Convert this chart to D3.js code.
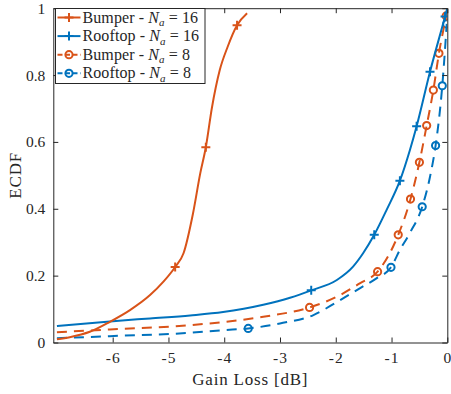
<!DOCTYPE html>
<html>
<head>
<meta charset="utf-8">
<script src="https://cdn.jsdelivr.net/npm/d3@7"></script>
<style>
  body { margin: 0; background: #fff; }
  svg text { font-family: "Liberation Serif", "DejaVu Serif", serif; fill: #262626; }
</style>
</head>
<body>
<div id="chart"></div>
<script>
// ---- data ----
const seriesNames = ["Bumper", "Rooftop", "Bumper", "Rooftop"];
const seriesNa = [16, 16, 8, 8];

// Bumper - Na = 16
const bumper16X = [-7.0, -6.77, -6.41, -6.05, -5.69, -5.33, -5.09, -4.88, -4.73, -4.56, -4.43, -4.33, -4.22, -4.08, -3.94, -3.77, -3.59];
const bumper16Y = [0.010, 0.016, 0.032, 0.062, 0.097, 0.142, 0.182, 0.226, 0.267, 0.386, 0.506, 0.584, 0.703, 0.815, 0.884, 0.949, 0.985];
const bumper16MarkX = [-4.88, -4.33, -3.77];
const bumper16MarkY = [0.226, 0.584, 0.949];

// Rooftop - Na = 16
const rooftop16X = [-7.0, -6.05, -5.33, -4.61, -4.02, -3.65, -3.30, -2.82, -2.44, -1.98, -1.69, -1.51, -1.31, -1.09, -0.85, -0.67, -0.55, -0.31, -0.04, 0];
const rooftop16Y = [0.049, 0.063, 0.072, 0.081, 0.091, 0.101, 0.113, 0.134, 0.156, 0.187, 0.227, 0.267, 0.322, 0.396, 0.484, 0.576, 0.647, 0.810, 0.975, 1.0];
const rooftop16MarkX = [-2.44, -1.31, -0.85, -0.55, -0.31, -0.04];
const rooftop16MarkY = [0.156, 0.322, 0.484, 0.647, 0.810, 0.975];

// Bumper - Na = 8
const bumper8X = [-7.0, -6.05, -4.61, -3.30, -2.47, -1.98, -1.57, -1.25, -0.88, -0.66, -0.50, -0.37, -0.25, -0.15, -0.02, -0.005];
const bumper8Y = [0.031, 0.039, 0.052, 0.077, 0.105, 0.137, 0.177, 0.212, 0.322, 0.429, 0.539, 0.649, 0.755, 0.865, 0.977, 0.99];
const bumper8MarkX = [-2.47, -1.25, -0.88, -0.66, -0.50, -0.37, -0.25, -0.15, -0.02];
const bumper8MarkY = [0.105, 0.212, 0.322, 0.429, 0.539, 0.649, 0.755, 0.865, 0.977];

// Rooftop - Na = 8
const rooftop8X = [-7.0, -6.05, -4.61, -4.02, -3.57, -3.00, -2.40, -1.98, -1.57, -1.27, -1.01, -0.85, -0.67, -0.45, -0.31, -0.21, -0.09, -0.01];
const rooftop8Y = [0.013, 0.019, 0.029, 0.037, 0.042, 0.057, 0.082, 0.121, 0.162, 0.192, 0.225, 0.277, 0.328, 0.406, 0.496, 0.589, 0.768, 0.953];
const rooftop8MarkX = [-3.57, -1.01, -0.45, -0.21, -0.09, -0.01];
const rooftop8MarkY = [0.042, 0.225, 0.406, 0.589, 0.768, 0.953];

const xTicks = [-6, -5, -4, -3, -2, -1, 0];
const yTicks = [0, 0.2, 0.4, 0.6, 0.8, 1];
const yTickLabels = ["0", "0.2", "0.4", "0.6", "0.8", "1"];

// ---- layout ----
const width = 451, height = 394;
const margin = { left: 53.3, right: 3.7, top: 8.2, bottom: 51.5 };
const orange = "#D95319", blue = "#0072BD";

const series = [
  { xs: bumper16X, ys: bumper16Y, mx: bumper16MarkX, my: bumper16MarkY, color: orange, dash: null, marker: "plus" },
  { xs: rooftop16X, ys: rooftop16Y, mx: rooftop16MarkX, my: rooftop16MarkY, color: blue, dash: null, marker: "plus" },
  { xs: bumper8X, ys: bumper8Y, mx: bumper8MarkX, my: bumper8MarkY, color: orange, dash: "10,7", marker: "circle" },
  { xs: rooftop8X, ys: rooftop8Y, mx: rooftop8MarkX, my: rooftop8MarkY, color: blue, dash: "10,7", marker: "circle" }
];

const svg = d3.select("#chart").append("svg")
  .attr("width", width)
  .attr("height", height);

const x = d3.scaleLinear().domain([-7.065, 0]).range([margin.left, width - margin.right]);
const y = d3.scaleLinear().domain([0, 1]).range([height - margin.bottom, margin.top]);

svg.append("clipPath").attr("id", "clip")
  .append("rect")
  .attr("x", margin.left).attr("y", margin.top - 2)
  .attr("width", width - margin.left - margin.right)
  .attr("height", height - margin.top - margin.bottom + 2);

// curves
const line = d3.line()
  .x(d => x(d[0]))
  .y(d => y(d[1]))
  .curve(d3.curveMonotoneX);

function drawMarker(g, kind, cx, cy, color) {
  if (kind === "plus") {
    g.append("path")
      .attr("d", `M${cx - 4.5},${cy}H${cx + 4.5}M${cx},${cy - 4.5}V${cy + 4.5}`)
      .attr("stroke", color).attr("stroke-width", 2).attr("fill", "none");
  } else {
    g.append("circle")
      .attr("cx", cx).attr("cy", cy).attr("r", 3.6)
      .attr("stroke", color).attr("stroke-width", 2).attr("fill", "none");
  }
}

const plot = svg.append("g").attr("clip-path", "url(#clip)");
// draw back to front: Na=8 first, then 16
[3, 2, 1, 0].forEach(i => {
  const s = series[i];
  const pts = s.xs.map((v, k) => [v, s.ys[k]]);
  plot.append("path")
    .datum(pts)
    .attr("d", line)
    .attr("fill", "none")
    .attr("stroke", s.color)
    .attr("stroke-width", 2)
    .attr("stroke-dasharray", s.dash);
  s.mx.forEach((v, k) => drawMarker(plot, s.marker, x(v), y(s.my[k]), s.color));
});

// axes (ticks pointing inwards, box on)
const axisColor = "#262626";
const gx = svg.append("g")
  .attr("transform", `translate(0,${height - margin.bottom})`)
  .call(d3.axisBottom(x).tickValues(xTicks).tickSizeInner(-5).tickSizeOuter(0).tickPadding(9).tickFormat(d => String(d)));
const gxt = svg.append("g")
  .attr("transform", `translate(0,${margin.top})`)
  .call(d3.axisTop(x).tickValues(xTicks).tickSizeInner(-5).tickSizeOuter(0).tickFormat(""));
const gy = svg.append("g")
  .attr("transform", `translate(${margin.left},0)`)
  .call(d3.axisLeft(y).tickValues(yTicks).tickSizeInner(-5).tickSizeOuter(0).tickPadding(8).tickFormat((d, i) => yTickLabels[i]));
const gyr = svg.append("g")
  .attr("transform", `translate(${width - margin.right},0)`)
  .call(d3.axisRight(y).tickValues(yTicks).tickSizeInner(-5).tickSizeOuter(0).tickFormat(""));

[gx, gxt, gy, gyr].forEach(g => {
  g.attr("font-family", null);
  g.select(".domain").attr("stroke", axisColor).attr("stroke-width", 1);
  g.selectAll(".tick line").attr("stroke", axisColor);
  g.selectAll(".tick text")
    .style("font-size", "15.5px")
    .attr("fill", axisColor);
});
gx.selectAll(".tick text").style("letter-spacing", "1px");

// axis labels
svg.append("text")
  .attr("x", (margin.left + width - margin.right) / 2)
  .attr("y", 385)
  .attr("text-anchor", "middle")
  .style("font-size", "17px")
  .style("letter-spacing", "0.8px")
  .text("Gain Loss [dB]");

svg.append("text")
  .attr("transform", `translate(21,${(margin.top + height - margin.bottom) / 2}) rotate(-90)`)
  .attr("text-anchor", "middle")
  .style("font-size", "17px")
  .style("letter-spacing", "0.8px")
  .text("ECDF");

// legend
const legend = svg.append("g");
legend.append("rect")
  .attr("x", 55.5).attr("y", 8.5)
  .attr("width", 149.5).attr("height", 75)
  .attr("fill", "#fff")
  .attr("stroke", axisColor)
  .attr("stroke-width", 1);

series.forEach((s, i) => {
  const cy = 17.5 + i * 18.6;
  legend.append("line")
    .attr("x1", 57.5).attr("x2", 80.5)
    .attr("y1", cy).attr("y2", cy)
    .attr("stroke", s.color)
    .attr("stroke-width", 2)
    .attr("stroke-dasharray", s.dash ? "5,2.5,5,2.5" : null);
  drawMarker(legend, s.marker, 69, cy, s.color);

  const t = legend.append("text")
    .attr("x", 82.5).attr("y", cy + 5)
    .style("font-size", "16px")
    .style("letter-spacing", "0.1px");
  t.append("tspan").text(seriesNames[i] + " - ");
  t.append("tspan").style("font-style", "italic").text("N");
  t.append("tspan").attr("dy", 3.5).style("font-size", "11px").style("font-style", "italic").text("a");
  t.append("tspan").attr("dy", -3.5).text(" = " + seriesNa[i]);
});
</script>
</body>
</html>
